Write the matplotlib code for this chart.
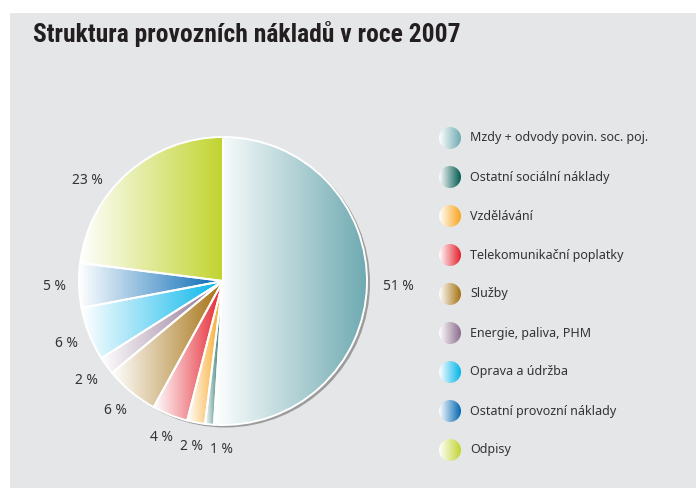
import numpy as np
import matplotlib.pyplot as plt
from matplotlib import font_manager
from matplotlib.colors import LinearSegmentedColormap, to_rgb
from matplotlib.patches import Rectangle, Circle

# data
categories = [
    "Mzdy + odvody povin. soc. poj.",
    "Ostatní sociální náklady",
    "Vzdělávání",
    "Telekomunikační poplatky",
    "Služby",
    "Energie, paliva, PHM",
    "Oprava a údržba",
    "Ostatní provozní náklady",
    "Odpisy",
]
shares = [51, 1, 2, 4, 6, 2, 6, 5, 23]
colors = ["#6eaab1", "#005a50", "#f8a41c", "#e41f2b", "#a4700f",
          "#8a6b8c", "#00b4ea", "#0066b3", "#c1d42f"]
title = "Struktura provozních nákladů v roce 2007"

W, H = 696, 488
TEXT = "#333333"


def pick_font(names):
    for n in names:
        try:
            font_manager.findfont(n, fallback_to_default=False)
            return n
        except ValueError:
            pass
    return "DejaVu Sans"


def gradient(ax, patch, color, extent, zorder):
    """ Horizontal white -> color gradient clipped to a patch. """
    cmap = LinearSegmentedColormap.from_list("g", [(1, 1, 1), to_rgb(color)])
    grad = np.linspace(0, 1, 256).reshape(1, -1)
    im = ax.imshow(grad, extent=extent, cmap=cmap, aspect="auto",
                   interpolation="bilinear", zorder=zorder)
    im.set_clip_path(patch)
    return im


fig = plt.figure(figsize=(W / 100, H / 100), dpi=100)
ax = fig.add_axes([0, 0, 1, 1])
ax.set_xlim(0, W)
ax.set_ylim(0, H)
ax.axis("off")

# gray panel
ax.add_patch(Rectangle((10, 0), W - 10, H - 13, facecolor="#e5e6e8",
                       edgecolor="none", zorder=0))

title_font = pick_font(["Liberation Sans Narrow", "Roboto Condensed", "Lato", "Roboto"])
t = ax.text(33, H - 34, title, family=[title_font, "DejaVu Sans"],
            fontweight="bold", fontsize=16, color="#231f20", va="center", ha="left")
# fit title to the width it has in the original (about 426 px)
fig.canvas.draw()
tw = t.get_window_extent(fig.canvas.get_renderer()).width
t.set_fontsize(16 * 426 / tw)

# pie
cx, cy, r = 223, H - 281, 144
ax.add_patch(Circle((cx + 2.5, cy - 2), r + 0.5, facecolor="#9c9c9c",
                    edgecolor="none", zorder=1))
wedges, _ = ax.pie(shares, colors=colors, startangle=90, counterclock=False,
                   center=(cx, cy), radius=r, frame=True,
                   wedgeprops=dict(edgecolor="white", linewidth=1.4))
for w, col in zip(wedges, colors):
    w.set_facecolor("none")
    w.set_zorder(3)
    bb = w.get_path().get_extents()
    gradient(ax, w, col, (bb.x0, bb.x1, bb.y0, bb.y1), 2)

# percentage labels
nudge = [0, 5, 0, 0, 0, 0, 0, 0, 12]
dist = [1.22, 1.17, 1.17, 1.17, 1.17, 1.17, 1.17, 1.17, 1.17]
for w, s, dn, dd in zip(wedges, shares, nudge, dist):
    ang = np.deg2rad((w.theta1 + w.theta2) / 2 + dn)
    d = r * dd
    ax.text(cx + d * np.cos(ang), cy + d * np.sin(ang), f"{s} %",
            family=["Noto Sans", "DejaVu Sans"], fontsize=10, color=TEXT,
            ha="center", va="center", zorder=4)

# legend
for i, (name, col) in enumerate(zip(categories, colors)):
    ly = H - 138 - 39 * i
    c = Circle((450, ly), 11, facecolor="none", edgecolor="none", zorder=3)
    ax.add_patch(c)
    gradient(ax, c, col, (439, 461, ly - 11, ly + 11), 2)
    ax.text(470, ly, name, family=["Noto Sans", "DejaVu Sans"], fontsize=9,
            color=TEXT, ha="left", va="center")

ax.set_xlim(0, W)
ax.set_ylim(0, H)
ax.set_aspect("auto")
ax.axis("off")

fig.savefig("out.png", dpi=100, facecolor="white")
